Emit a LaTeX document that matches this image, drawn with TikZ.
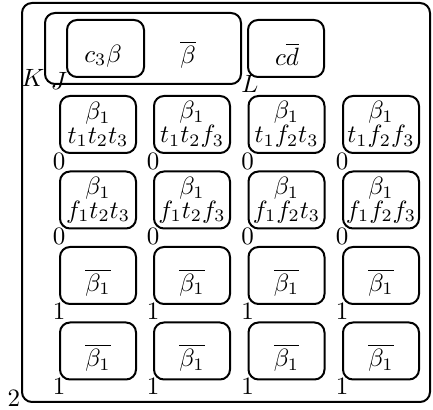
\documentclass[tikz,border=0pt]{standalone}
\begin{document}
\begin{tikzpicture}[x=0.40pt,y=-0.40pt,
  box/.style={draw, line width=0.8pt, rounded corners=4pt, inner sep=0pt},
  cell/.style={box, minimum width={76*0.40pt}, minimum height={57*0.40pt}, align=center},
  lbl/.style={inner sep=0pt}]
\useasboundingbox (0,0) rectangle (433,410);
\node[box, minimum width={408*0.40pt}, minimum height={399*0.40pt}] (outer) at (226,202.5) {};
\node[box, minimum width={196*0.40pt}, minimum height={71*0.40pt}] (jbox) at (143,48.5) {};
\node[cell, minimum width={77*0.40pt}] (c3) at (105.5,48.5) {};
\node[lbl] (c3t) at (103,56) {$c_3\beta$};
\node[lbl] (bb) at (188,55) {$\overline{\beta}$};
\node[cell] (cd) at (286,48.5) {};
\node[lbl] (cdt) at (287,54) {$c\overline{d}$};
\node[lbl] (K) at (33,78) {$K$};
\node[lbl] (J) at (59,81) {$J$};
\node[lbl] (L) at (250,84) {$L$};
\node[lbl] (two) at (14,398) {2};
\foreach \c/\x/\s in {1/98/t_1t_2t_3, 2/192/t_1t_2f_3, 3/286.5/t_1f_2t_3, 4/381/t_1f_2f_3}{
  \node[cell] (g1\c) at (\x,124.5) {$\beta_1$\\[-2.5pt]$\s$};
  \node[lbl] (z1\c) at (\x-39,161) {0};
}
\foreach \c/\x/\s in {1/98/f_1t_2t_3, 2/192/f_1t_2f_3, 3/286.5/f_1f_2t_3, 4/381/f_1f_2f_3}{
  \node[cell] (g2\c) at (\x,200) {$\beta_1$\\[-2.5pt]$\s$};
  \node[lbl] (z2\c) at (\x-39,236) {0};
}
\foreach \r/\y in {3/275.5, 4/351}{
  \foreach \c/\x in {1/98, 2/192, 3/286.5, 4/381}{
    \node[cell] (g\r\c) at (\x,\y) {};
    \node[lbl] (t\r\c) at (\x,\y+7) {$\overline{\beta_1}$};
    \node[lbl] (o\r\c) at (\x-39,\y+35.5) {1};
  }
}
\end{tikzpicture}
\end{document}
